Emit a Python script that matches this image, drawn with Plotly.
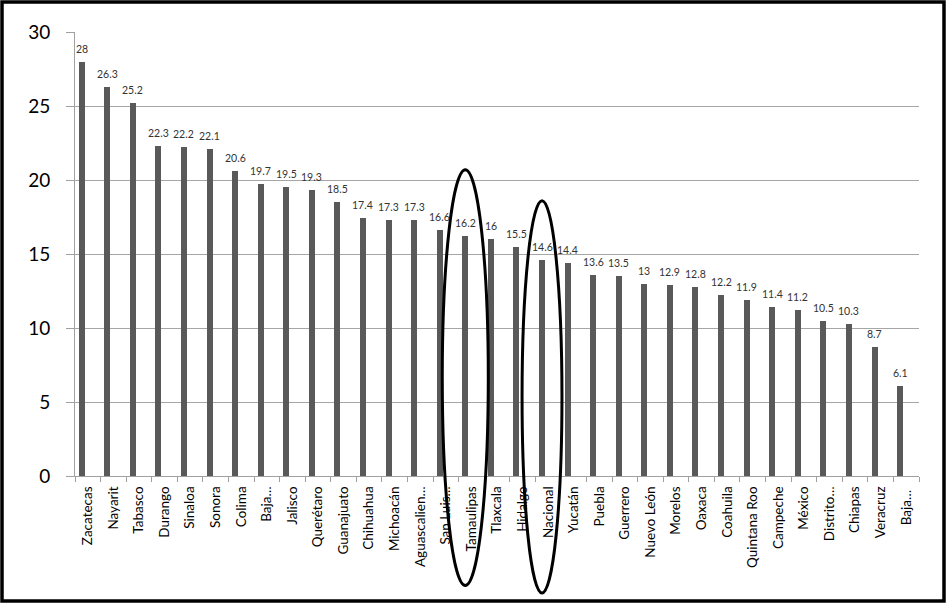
import plotly.graph_objects as go

estados = ["Zacatecas", "Nayarit", "Tabasco", "Durango", "Sinaloa", "Sonora", "Colima",
           "Baja…", "Jalisco", "Querétaro", "Guanajuato", "Chihuahua", "Michoacán",
           "Aguascalien…", "San Luis…", "Tamaulipas", "Tlaxcala", "Hidalgo", "Nacional",
           "Yucatán", "Puebla", "Guerrero", "Nuevo León", "Morelos", "Oaxaca", "Coahuila",
           "Quintana Roo", "Campeche", "México", "Distrito…", "Chiapas", "Veracruz", "Baja… "]
valores = [28, 26.3, 25.2, 22.3, 22.2, 22.1, 20.6, 19.7, 19.5, 19.3, 18.5, 17.4, 17.3,
           17.3, 16.6, 16.2, 16, 15.5, 14.6, 14.4, 13.6, 13.5, 13, 12.9, 12.8, 12.2, 11.9,
           11.4, 11.2, 10.5, 10.3, 8.7, 6.1]
y_ticks = [0, 5, 10, 15, 20, 25, 30]
resaltados = ["Tamaulipas", "Nacional"]

FONT = "Lato"
n = len(estados)

L, R, T, B = 75, 28, 32, 128
W, H = 947, 604
pw, ph = W - L - R, H - T - B
BAR_OFF, BAR_W = -0.357, 0.235
bar_center_px = (BAR_OFF + BAR_W / 2) * pw / n

fig = go.Figure()
fig.add_trace(go.Bar(
    x=estados, y=valores,
    marker=dict(color="#595959", line=dict(width=0)),
    offset=BAR_OFF, width=BAR_W,
))

annotations = [dict(x=c, y=v, xref="x", yref="y", text=f"{v:g}", showarrow=False,
                    xanchor="center", yanchor="bottom", xshift=bar_center_px, yshift=5,
                    font=dict(family=FONT, size=10.5, color="#333333"))
               for c, v in zip(estados, valores)]

shapes = []
# outer frame
shapes.append(dict(type="rect", xref="paper", yref="paper",
                   x0=(2 - L) / pw, x1=(W - 3 - L) / pw,
                   y0=-(H - 3 - T - ph) / ph, y1=(ph + T - 2) / ph,
                   line=dict(color="black", width=3.5), layer="above"))
# ellipses around highlighted categories
ell = {"Tamaulipas": (0.9, 20.7, -7.4), "Nacional": (0.78, 18.6, -7.9)}
for name in resaltados:
    i = estados.index(name)
    hw, ytop, ybot = ell[name]
    cx = i - 0.24
    shapes.append(dict(type="circle", xref="paper", yref="paper",
                       x0=(cx - hw + 0.5) / n, x1=(cx + hw + 0.5) / n,
                       y0=ybot / 30, y1=ytop / 30,
                       line=dict(color="black", width=3), layer="above"))

fig.update_layout(
    width=W, height=H,
    margin=dict(l=L, r=R, t=T, b=B, pad=0),
    paper_bgcolor="white", plot_bgcolor="white",
    showlegend=False,
    shapes=shapes,
    annotations=annotations,
    bargap=0,
    xaxis=dict(type="category", tickson="boundaries", ticks="outside", ticklen=5,
               tickcolor="#a0a0a0", showgrid=False, showline=True, linecolor="#a0a0a0",
               tickangle=-90, tickfont=dict(family=FONT, size=13.5, color="black"),
               ticklabelstandoff=4, range=[-0.5, n - 0.5], automargin=False),
    yaxis=dict(range=[0, 30], tickvals=y_ticks, ticks="outside", ticklen=8,
               tickcolor="#a0a0a0", showgrid=True, gridcolor="#a6a6a6", gridwidth=1,
               showline=True, linecolor="#a0a0a0", zeroline=False,
               tickfont=dict(family=FONT, size=19, color="black"),
               ticklabelstandoff=12, automargin=False),
)

fig.write_html("out.html", config={"displayModeBar": False},
               post_script="document.body.style.margin='0';")
